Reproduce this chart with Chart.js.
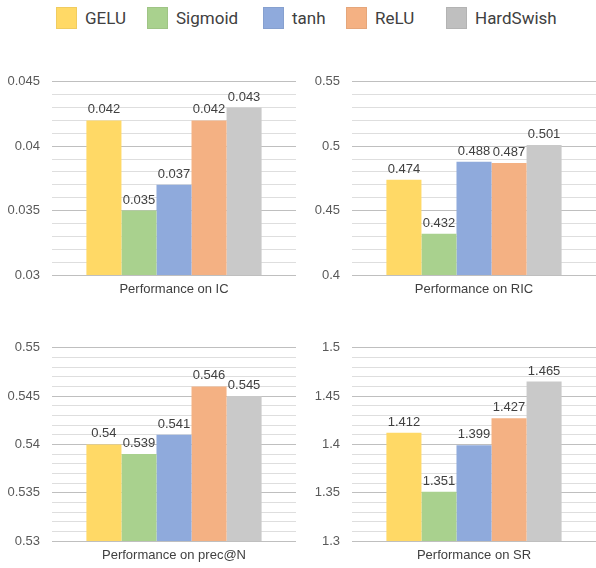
<!DOCTYPE html>
<html>
<head>
<meta charset="utf-8">
<script src="https://cdn.jsdelivr.net/npm/chart.js@4.4.1/dist/chart.umd.min.js"></script>
<style>
  html, body { margin: 0; padding: 0; background: #ffffff; }
  #page { position: relative; width: 596px; height: 568px; overflow: hidden; }
  canvas { position: absolute; }
  .legend-item { position: absolute; top: 7px; height: 22px; display: flex; align-items: center;
                 font-family: Roboto, "Noto Sans", sans-serif; font-size: 17px; color: #404040; white-space: nowrap; }
  .legend-box { width: 21px; height: 22px; margin-right: 8px; box-sizing: border-box; border: 1px solid rgba(0,0,0,0.06); }
</style>
</head>
<body>
<div id="page">
  <div id="legend"></div>
  <canvas id="c0" width="298" height="240" style="left:0px;top:62px;"></canvas>
  <canvas id="c1" width="296" height="240" style="left:300px;top:62px;"></canvas>
  <canvas id="c2" width="298" height="240" style="left:0px;top:328px;"></canvas>
  <canvas id="c3" width="296" height="240" style="left:300px;top:328px;"></canvas>
</div>
<script>
// Metric panels (one bar group each)
const categories = ['Performance on IC', 'Performance on RIC', 'Performance on prec@N', 'Performance on SR'];

// Activation functions compared
const seriesNames = ['GELU', 'Sigmoid', 'tanh', 'ReLU', 'HardSwish'];
const seriesColors = ['#FFD966', '#A9D18E', '#8FAADC', '#F4B183', '#C9C9C9'];
const legendColors = ['#FFD966', '#A9D18E', '#8FAADC', '#F4B183', '#BFBFBF'];

// Values per metric: IC, RIC, prec@N, SR
const geluValues      = [0.042, 0.474, 0.540, 1.412];
const sigmoidValues   = [0.035, 0.432, 0.539, 1.351];
const tanhValues      = [0.037, 0.488, 0.541, 1.399];
const reluValues      = [0.042, 0.487, 0.546, 1.427];
const hardswishValues = [0.043, 0.501, 0.545, 1.465];
const seriesValues = [geluValues, sigmoidValues, tanhValues, reluValues, hardswishValues];

// Labelled y-axis ticks for each panel (minor gridlines split each interval into 5)
const ticksIC    = [0.03, 0.035, 0.04, 0.045];
const ticksRIC   = [0.4, 0.45, 0.5, 0.55];
const ticksPrec  = [0.53, 0.535, 0.54, 0.545, 0.55];
const ticksSR    = [1.3, 1.35, 1.4, 1.45, 1.5];
const panelTicks = [ticksIC, ticksRIC, ticksPrec, ticksSR];
const minorDivisions = 5;

// Legend
const legendLefts = [56, 147, 263, 346, 446];
const legendEl = document.getElementById('legend');
seriesNames.forEach((name, i) => {
  const item = document.createElement('div');
  item.className = 'legend-item';
  item.style.left = legendLefts[i] + 'px';
  const box = document.createElement('span');
  box.className = 'legend-box';
  box.style.background = legendColors[i];
  const label = document.createElement('span');
  label.textContent = name;
  item.appendChild(box);
  item.appendChild(label);
  legendEl.appendChild(item);
});

const round6 = v => Number(v.toFixed(6));

// Value labels above each bar
const valueLabels = {
  id: 'valueLabels',
  afterDatasetsDraw(chart) {
    const ctx = chart.ctx;
    ctx.save();
    ctx.font = '13px "Liberation Sans", Arial, sans-serif';
    ctx.fillStyle = '#404040';
    ctx.textAlign = 'center';
    ctx.textBaseline = 'alphabetic';
    chart.data.datasets.forEach((ds, i) => {
      chart.getDatasetMeta(i).data.forEach((bar, j) => {
        ctx.fillText(String(ds.data[j]), bar.x, bar.y - 7);
      });
    });
    ctx.restore();
  }
};

function buildPanel(canvasId, panel, padRight, padTop) {
  const majors = panelTicks[panel];
  const step = (majors[1] - majors[0]) / minorDivisions;
  const lo = majors[0], hi = majors[majors.length - 1];
  const gridValues = [];
  const count = Math.round((hi - lo) / step);
  for (let k = 0; k <= count; k++) gridValues.push(round6(lo + k * step));
  const isMajor = v => majors.some(m => Math.abs(m - v) < step / 10);

  new Chart(document.getElementById(canvasId), {
    type: 'bar',
    data: {
      labels: [categories[panel]],
      datasets: seriesNames.map((name, i) => ({
        label: name,
        data: [seriesValues[i][panel]],
        backgroundColor: seriesColors[i],
        borderWidth: 0
      }))
    },
    options: {
      responsive: false,
      animation: false,
      devicePixelRatio: 1,
      layout: { padding: { top: padTop, right: padRight, bottom: 0, left: 0 } },
      plugins: { legend: { display: false }, tooltip: { enabled: false } },
      datasets: { bar: { categoryPercentage: 0.718, barPercentage: 1.0 } },
      scales: {
        x: {
          grid: { display: false, drawTicks: false },
          border: { display: false },
          ticks: { color: '#404040', font: { family: '"Liberation Sans", Arial, sans-serif', size: 13 }, padding: 7 },
          afterFit: s => { s.height = 27; }
        },
        y: {
          min: lo,
          max: hi,
          afterBuildTicks: s => { s.ticks = gridValues.map(v => ({ value: v })); },
          afterFit: s => { s.width = 52; },
          border: { display: false },
          grid: {
            drawTicks: false,
            color: c => (c.tick && isMajor(c.tick.value)) ? '#bfbfbf' : '#dedede',
            lineWidth: 1
          },
          ticks: {
            padding: 12,
            color: '#595959',
            font: { family: '"Liberation Sans", Arial, sans-serif', size: 13 },
            autoSkip: false,
            callback: v => isMajor(v) ? String(round6(v)) : ''
          }
        }
      }
    },
    plugins: [valueLabels]
  });
}

buildPanel('c0', 0, 2, 11);
buildPanel('c1', 1, 0, 11);
buildPanel('c2', 2, 2, 10.5);
buildPanel('c3', 3, 0, 10.5);
</script>
</body>
</html>
